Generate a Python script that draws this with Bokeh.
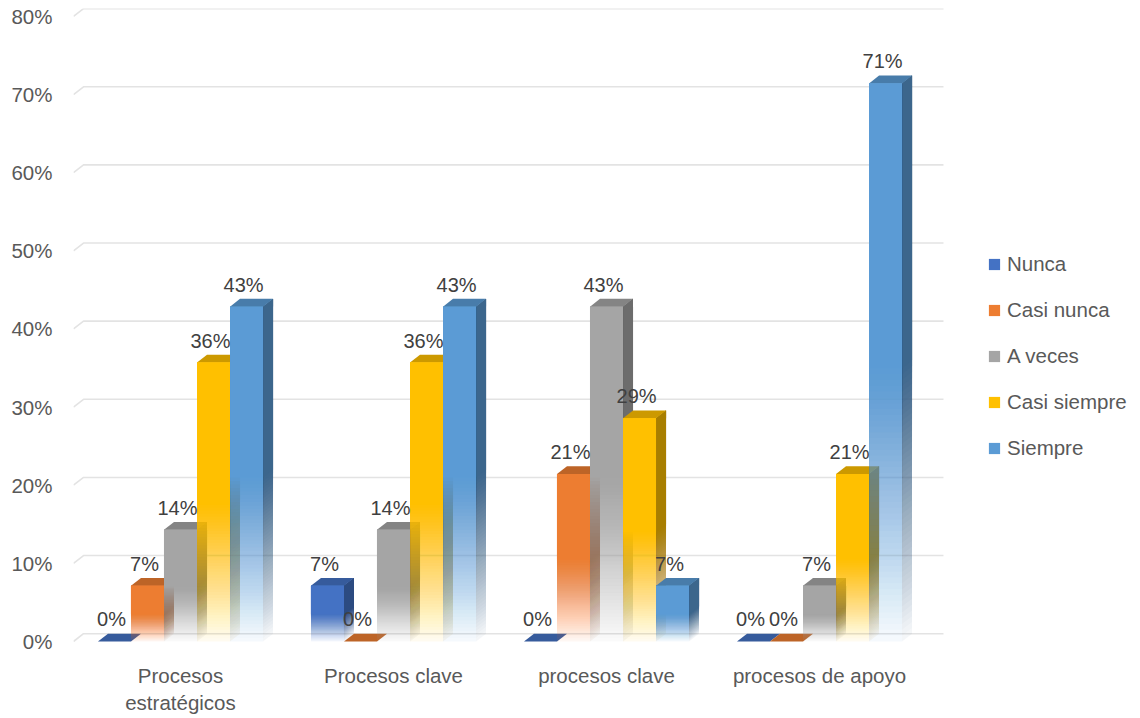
import numpy as np
from bokeh.plotting import figure
from bokeh.models import ColumnDataSource, Range1d, FixedTicker, Legend, LegendItem
from bokeh.embed import file_html
from bokeh.resources import INLINE
from bokeh.core.properties import value

# ---------------- data ----------------
categories = ["Procesos\nestratégicos", "Procesos clave", "procesos clave", "procesos de apoyo"]
series_names = ["Nunca", "Casi nunca", "A veces", "Casi siempre", "Siempre"]
nunca = [0.0, 7.14, 0.0, 0.0]
casi_nunca = [7.14, 0.0, 21.43, 0.0]
a_veces = [14.29, 14.29, 42.86, 7.14]
casi_siempre = [35.71, 35.71, 28.57, 21.43]
siempre = [42.86, 42.86, 7.14, 71.43]
series_values = [nunca, casi_nunca, a_veces, casi_siempre, siempre]
colors = ["#4472C4", "#ED7D31", "#A5A5A5", "#FFC000", "#5B9BD5"]
y_ticks = [0, 10, 20, 30, 40, 50, 60, 70, 80]
y_tick_labels = ["0%", "10%", "20%", "30%", "40%", "50%", "60%", "70%", "80%"]

# ---------------- geometry / style ----------------
FONT = "Liberation Sans"
BAR_W = 0.155
DX = 0.047
DY = 1.0
N_LAYERS = 48
A_MIN = 0.06
FADE_FRAC = 0.5
X_START, X_END = -0.5023, 4.4694
Y_START, Y_END = -0.64, 81.02
GRID_END = 3.582


def shade(hex_color, f):
    h = hex_color.lstrip("#")
    r, g, b = (int(h[i:i + 2], 16) for i in (0, 2, 4))
    return "#%02x%02x%02x" % (int(r * f), int(g * f), int(b * f))


p = figure(width=1132, height=717, x_range=Range1d(X_START, X_END),
           y_range=Range1d(Y_START, Y_END), output_backend="svg",
           toolbar_location=None, min_border_left=73, min_border_right=0,
           min_border_top=8, min_border_bottom=71)
p.outline_line_color = None
p.xgrid.visible = False
p.ygrid.visible = False
p.background_fill_color = "white"

# axes
p.yaxis.ticker = FixedTicker(ticks=y_ticks)
p.yaxis.major_label_overrides = {t: lab for t, lab in zip(y_ticks, y_tick_labels)}
p.yaxis.axis_line_color = None
p.yaxis.major_tick_line_color = None
p.yaxis.minor_tick_line_color = None
p.yaxis.major_tick_out = 0
p.yaxis.major_label_standoff = 21
p.yaxis.major_label_text_font = FONT
p.yaxis.major_label_text_font_size = "20.5px"
p.yaxis.major_label_text_color = "#595959"

xt = list(range(len(categories)))
p.xaxis.ticker = FixedTicker(ticks=xt)
p.xaxis.major_label_overrides = {i: c for i, c in zip(xt, categories)}
p.xaxis.axis_line_color = None
p.xaxis.major_tick_line_color = None
p.xaxis.minor_tick_line_color = None
p.xaxis.major_tick_out = 0
p.xaxis.major_label_standoff = 17
p.xaxis.major_label_text_font = FONT
p.xaxis.major_label_text_font_size = "20.5px"
p.xaxis.major_label_text_color = "#595959"

# gridlines (back wall + floor diagonal)
gx = [[X_START, X_START + DX, GRID_END] for t in y_ticks]
gy = [[t, t + DY, t + DY] for t in y_ticks]
p.multi_line(gx, gy, line_color="#E3E3E3", line_width=1.6)

# composite alpha profile for fading layers
A = [A_MIN + (1 - A_MIN) * m / (N_LAYERS - 1) for m in range(N_LAYERS)]
layer_alpha = [A[0]] + [1 - (1 - A[m]) / (1 - A[m - 1]) for m in range(1, N_LAYERS)]

legend_items = []
n_series = len(series_names)
for k, (name, vals, col) in enumerate(zip(series_names, series_values, colors)):
    xc = [i + (k - (n_series - 1) / 2) * BAR_W for i in range(len(vals))]
    xl = [c - BAR_W / 2 for c in xc]
    xr = [c + BAR_W / 2 for c in xc]

    side_col = shade(col, 0.66)
    top_col = shade(col, 0.80)

    # side faces (fading layers)
    sxs, sys_, sal = [], [], []
    for m in range(N_LAYERS):
        for i, v in enumerate(vals):
            b = v * FADE_FRAC * m / N_LAYERS
            sxs.append([xr[i], xr[i] + DX, xr[i] + DX, xr[i]])
            sys_.append([b, b + DY, v + DY, v])
            sal.append(layer_alpha[m])
    p.patches(xs="xs", ys="ys", fill_alpha="a", fill_color=side_col, line_color=None,
              source=ColumnDataSource(dict(xs=sxs, ys=sys_, a=sal)))

    # top faces
    txs = [[xl[i], xr[i], xr[i] + DX, xl[i] + DX] for i in range(len(vals))]
    tys = [[v, v, v + DY, v + DY] for v in vals]
    p.patches(xs=txs, ys=tys, fill_color=top_col, line_color=None)

    # front faces (fading layers)
    fl, fr, fb, ft, fa = [], [], [], [], []
    for m in range(N_LAYERS):
        for i, v in enumerate(vals):
            fl.append(xl[i]); fr.append(xr[i])
            fb.append(v * FADE_FRAC * m / N_LAYERS); ft.append(v)
            fa.append(layer_alpha[m])
    r = p.quad(left="l", right="r", bottom="b", top="t", fill_alpha="a",
               fill_color=col, line_color=None,
               source=ColumnDataSource(dict(l=fl, r=fr, b=fb, t=ft, a=fa)))
    legend_items.append(LegendItem(label=name, renderers=[r],
                                   index=(N_LAYERS - 1) * len(vals)))

# data labels
for k, vals in enumerate(series_values):
    xc = [i + (k - (n_series - 1) / 2) * BAR_W for i in range(len(vals))]
    labs = ["%d%%" % int(round(v)) for v in vals]
    p.text(x=xc, y=vals, text=labs, text_align="center", text_baseline="middle",
           x_offset=-3, y_offset=-22, text_font=value(FONT),
           text_font_size="20px", text_color="#404040")

legend = Legend(items=legend_items, location=(914, 186))
legend.margin = 0
legend.padding = 0
legend.border_line_alpha = 0
legend.background_fill_alpha = 0
legend.glyph_width = 14
legend.glyph_height = 14
legend.label_height = 22
legend.spacing = 22
legend.label_standoff = 6
legend.label_text_font = FONT
legend.label_text_font_size = "20.5px"
legend.label_text_color = "#595959"
p.add_layout(legend)

open("out.html", "w").write(file_html(p, INLINE))
